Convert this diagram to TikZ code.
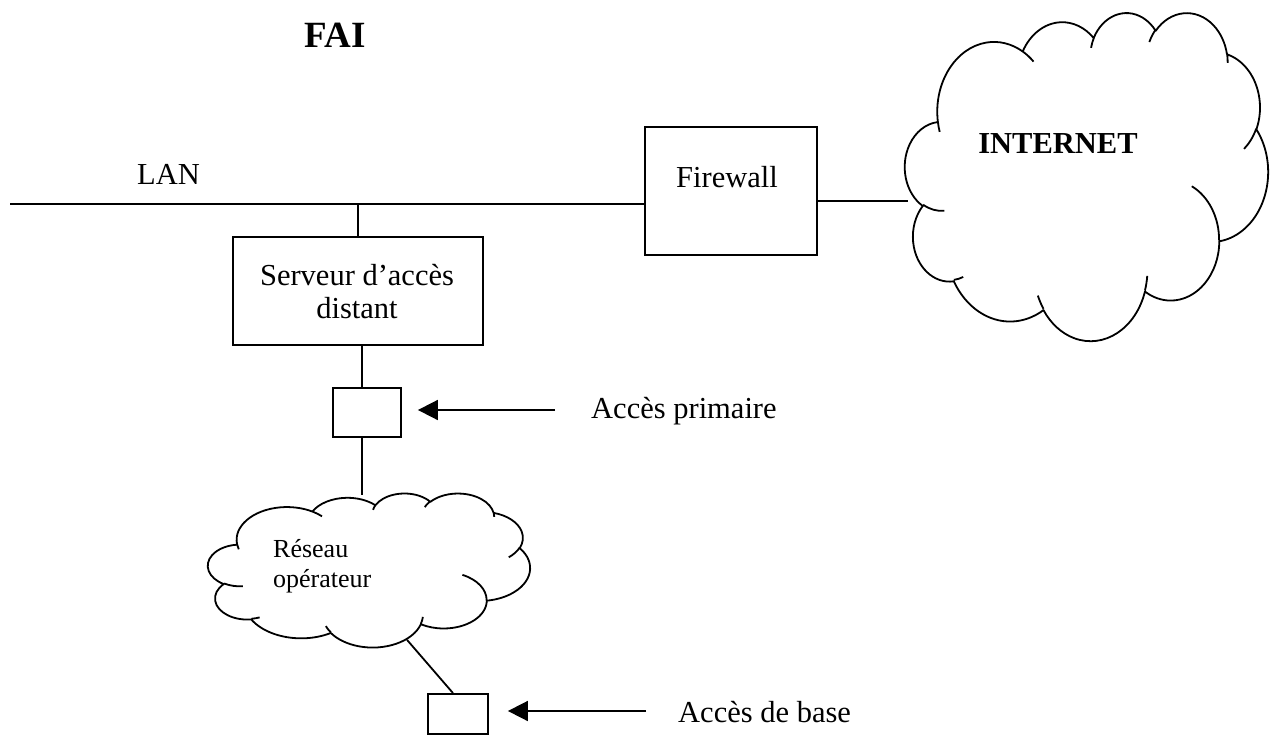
\documentclass[tikz,border=0pt]{standalone}
\usepackage{fontspec}
\setmainfont{Liberation Serif}
\usetikzlibrary{arrows.meta,calc}

% One lobe of the cloud outline: an elliptic arc given by its radii and by the
% visual start angle and sweep, converted to TikZ's parametric angles.
\newcommand\puffarc[4]{%
  \pgfextra{%
    \pgfmathsetmacro\pA{atan2(#1*sin(#3),#2*cos(#3))}%
    \pgfmathsetmacro\pB{atan2(#1*sin(#3+#4),#2*cos(#3+#4))}%
    \pgfmathsetmacro\pD{\pB-\pA}%
    \pgfmathsetmacro\pD{(\pD<0) ? \pD+360 : \pD}%
  } arc[x radius=#1, y radius=#2, start angle=\pA, delta angle=\pD]}

% Cloud outline in a 43.2 x 43.2 frame, with the short inner strokes at the lobes
\newcommand\cloudpath{%
  (3.900,14.370) \puffarc{6.753}{9.190}{-190.487}{123.781}
  \puffarc{5.333}{7.267}{-144.102}{89.945}
  \puffarc{4.365}{5.945}{-145.808}{99.723}
  \puffarc{4.857}{6.595}{-130.986}{117.242}
  \puffarc{5.333}{7.273}{-78.709}{109.027}
  \puffarc{6.775}{9.220}{-46.267}{130.269}
  \puffarc{5.785}{7.867}{0.625}{114.033}
  \puffarc{6.752}{9.215}{22.452}{115.173}
  \puffarc{7.720}{10.543}{66.243}{75.711}
  \puffarc{4.360}{5.918}{-274.942}{146.736}
  \puffarc{4.345}{5.945}{-246.829}{152.519} -- cycle
  (4.693,26.177) \puffarc{4.345}{5.945}{86.742}{26.430}
  (6.928,34.899) \puffarc{4.360}{5.918}{73.610}{11.447}
  (16.478,39.090) \puffarc{6.752}{9.215}{137.624}{14.081}
  (28.827,34.751) \puffarc{6.752}{9.215}{6.453}{15.998}
  (34.129,22.954) \puffarc{5.785}{7.867}{-70.292}{70.917}
  (41.798,15.354) \puffarc{5.333}{7.273}{30.318}{27.752}
  (38.324,5.426) \puffarc{4.857}{6.595}{-13.744}{14.859}
  (29.078,3.952) \puffarc{4.857}{6.595}{-149.181}{18.195}
  (22.141,4.720) \puffarc{4.365}{5.945}{-163.494}{17.686}
  (14.000,5.192) \puffarc{6.753}{9.190}{-66.707}{12.319}
  (4.127,15.789) \puffarc{6.753}{9.190}{157.654}{11.858}}

\begin{document}
\begin{tikzpicture}[x=1pt,y=-1pt,
  wire/.style={line width=1.8pt},
  boxnode/.style={draw,line width=1.8pt,inner sep=0pt},
  cloudline/.style={line width=1.8pt,line join=round},
  frame/.style={inner sep=0pt,outer sep=0pt},
  txt/.style={font=\fontsize{30.5}{33}\selectfont,inner sep=0pt},
  smalltxt/.style={font=\fontsize{26}{30}\selectfont,inner sep=0pt,align=left},
  pointer/.style={line width=1.8pt,-{Triangle[length=20pt,width=20pt]}}]
\useasboundingbox (0,0) rectangle (1276,735);

% title and LAN label
\node[txt,anchor=base,font=\fontsize{37}{40}\selectfont\bfseries] (fai) at (335,48) {FAI};
\node[txt,anchor=base west] (lan) at (137,185) {LAN};

% boxes
\node[boxnode,minimum width=172pt,minimum height=128pt] (fw) at (731,191) {};
\node[txt,anchor=base] (fwtxt) at (727,188) {Firewall};
\node[boxnode,minimum width=250pt,minimum height=108pt] (srv) at (358,291) {};
\node[txt,anchor=base,align=center] (srvtxt) at (357,318) {Serveur d’accès\\distant};
\node[boxnode,minimum width=68pt,minimum height=49pt] (pa) at (367,412.5) {};
\node[boxnode,minimum width=60pt,minimum height=40pt] (ba) at (458,714) {};

% Internet cloud
\node[frame,minimum width=363pt,minimum height=328pt] (inet) at (1086.5,176) {};
\begin{scope}[shift={(inet.north west)},x=8.4028pt,y=-7.5926pt]
  \draw[cloudline] \cloudpath;
\end{scope}
\node[txt,anchor=base,font=\fontsize{30.5}{33}\selectfont\bfseries] (inettxt) at (1058,154) {INTERNET};

% operator network cloud
\node[frame,minimum width=322pt,minimum height=154pt] (op) at (369,570) {};
\begin{scope}[shift={(op.north west)},x=7.4537pt,y=-3.5648pt]
  \draw[cloudline] \cloudpath;
  \coordinate (opLink) at (26.7,41.2);
\end{scope}
\node[smalltxt,anchor=base west] (optxt) at (273,587) {Réseau\\opérateur};

% arrow labels
\node[txt,anchor=base west] (paLbl) at (591,418) {Accès primaire};
\node[txt,anchor=base west] (baLbl) at (678,722) {Accès de base};

% LAN bus and links
\coordinate (lanL) at (10,204);
\coordinate (drop) at (362,0);
\draw[wire] (lanL) -- (lanL -| fw.west);
\draw[wire] (lanL -| srv.north) -- (srv.north);
\coordinate (fwOut) at ($(fw.east)+(0,10)$);
\draw[wire] (fwOut) -- ($(fwOut -| inet.west)+(3,0)$);
\draw[wire] (drop |- srv.south) -- (drop |- pa.north);
\draw[wire] (drop |- pa.south) -- ($(drop |- op.north)+(0,2)$);
\draw[wire] (opLink) -- ($(ba.north)+(-5,0)$);

% pointers
\coordinate (paFrom) at ($(paLbl.base west)+(-36,-8)$);
\draw[pointer] (paFrom) -- ($(paFrom -| pa.east)+(16,0)$);
\coordinate (baFrom) at ($(baLbl.base west)+(-32,-11)$);
\draw[pointer] (baFrom) -- ($(baFrom -| ba.east)+(19,0)$);
\end{tikzpicture}
\end{document}
